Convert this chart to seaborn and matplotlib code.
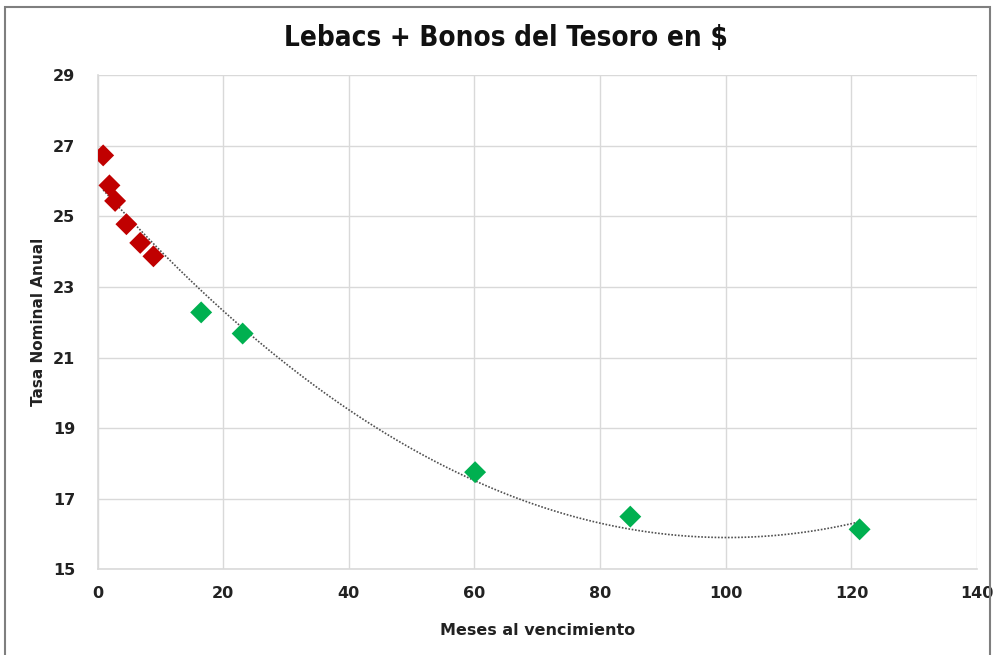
import matplotlib
matplotlib.use("Agg")
import matplotlib.pyplot as plt
import seaborn as sns
import pandas as pd
import numpy as np
from matplotlib.patches import Rectangle

lebacs_x = [0.9, 1.9, 2.8, 4.6, 6.8, 8.9]
lebacs_y = [26.73, 25.88, 25.44, 24.78, 24.25, 23.87]
bonos_x = [16.5, 23.1, 60.1, 84.8, 121.3]
bonos_y = [22.28, 21.68, 17.75, 16.49, 16.13]

df = pd.DataFrame({
    "meses": lebacs_x + bonos_x,
    "tasa": lebacs_y + bonos_y,
    "tipo": ["Lebacs"] * len(lebacs_x) + ["Bonos"] * len(bonos_x),
})

sns.set_theme(style="white")
plt.rcParams['font.family'] = ['DejaVu Sans']

fig = plt.figure(figsize=(9.95, 6.55), dpi=100)
ax = fig.add_axes([0.098, 0.131, 0.884, 0.754])

sns.regplot(data=df, x="meses", y="tasa", order=2, scatter=False, ci=None, ax=ax,
            line_kws=dict(color="#505050", linestyle=(0, (1, 1)), linewidth=1.2))
sns.scatterplot(data=df, x="meses", y="tasa", hue="tipo",
                palette={"Lebacs": "#C00000", "Bonos": "#00B050"},
                marker="D", s=125, edgecolor="none", ax=ax, legend=False, zorder=3)

ax.set_xlim(0, 140)
ax.set_ylim(15, 29)
ax.set_xticks(range(0, 141, 20))
ax.set_yticks(range(15, 30, 2))
ax.grid(True, color="#D9D9D9", linewidth=1)
ax.set_axisbelow(True)
for s in ["top", "right"]:
    ax.spines[s].set_visible(False)
for s in ["left", "bottom"]:
    ax.spines[s].set_color("#D9D9D9")
    ax.spines[s].set_linewidth(1.2)
ax.tick_params(length=0, labelsize=11.5, pad=12)
ax.tick_params(axis="y", pad=16)
for lab in ax.get_xticklabels() + ax.get_yticklabels():
    lab.set_fontweight("bold")
    lab.set_color("#222222")

ax.set_xlabel("Meses al vencimiento", fontsize=11.5, fontweight="bold", color="#222222", labelpad=16)
ax.set_ylabel("Tasa Nominal Anual", fontsize=11, fontweight="bold", color="#222222")
ax.yaxis.set_label_coords(-0.058, 0.5)

fig.text(0.508, 0.942, "Lebacs + Bonos del Tesoro en $", ha="center", va="center",
         fontsize=20, fontweight="bold", fontstretch="condensed",
         family=["DejaVu Sans"], color="#111111")

fig.patches.append(Rectangle((0.005, -0.01), 0.99, 1.0, transform=fig.transFigure,
                             fill=False, edgecolor="#7F7F7F", linewidth=1.5))

fig.savefig("out.png", dpi=100, facecolor="white")
